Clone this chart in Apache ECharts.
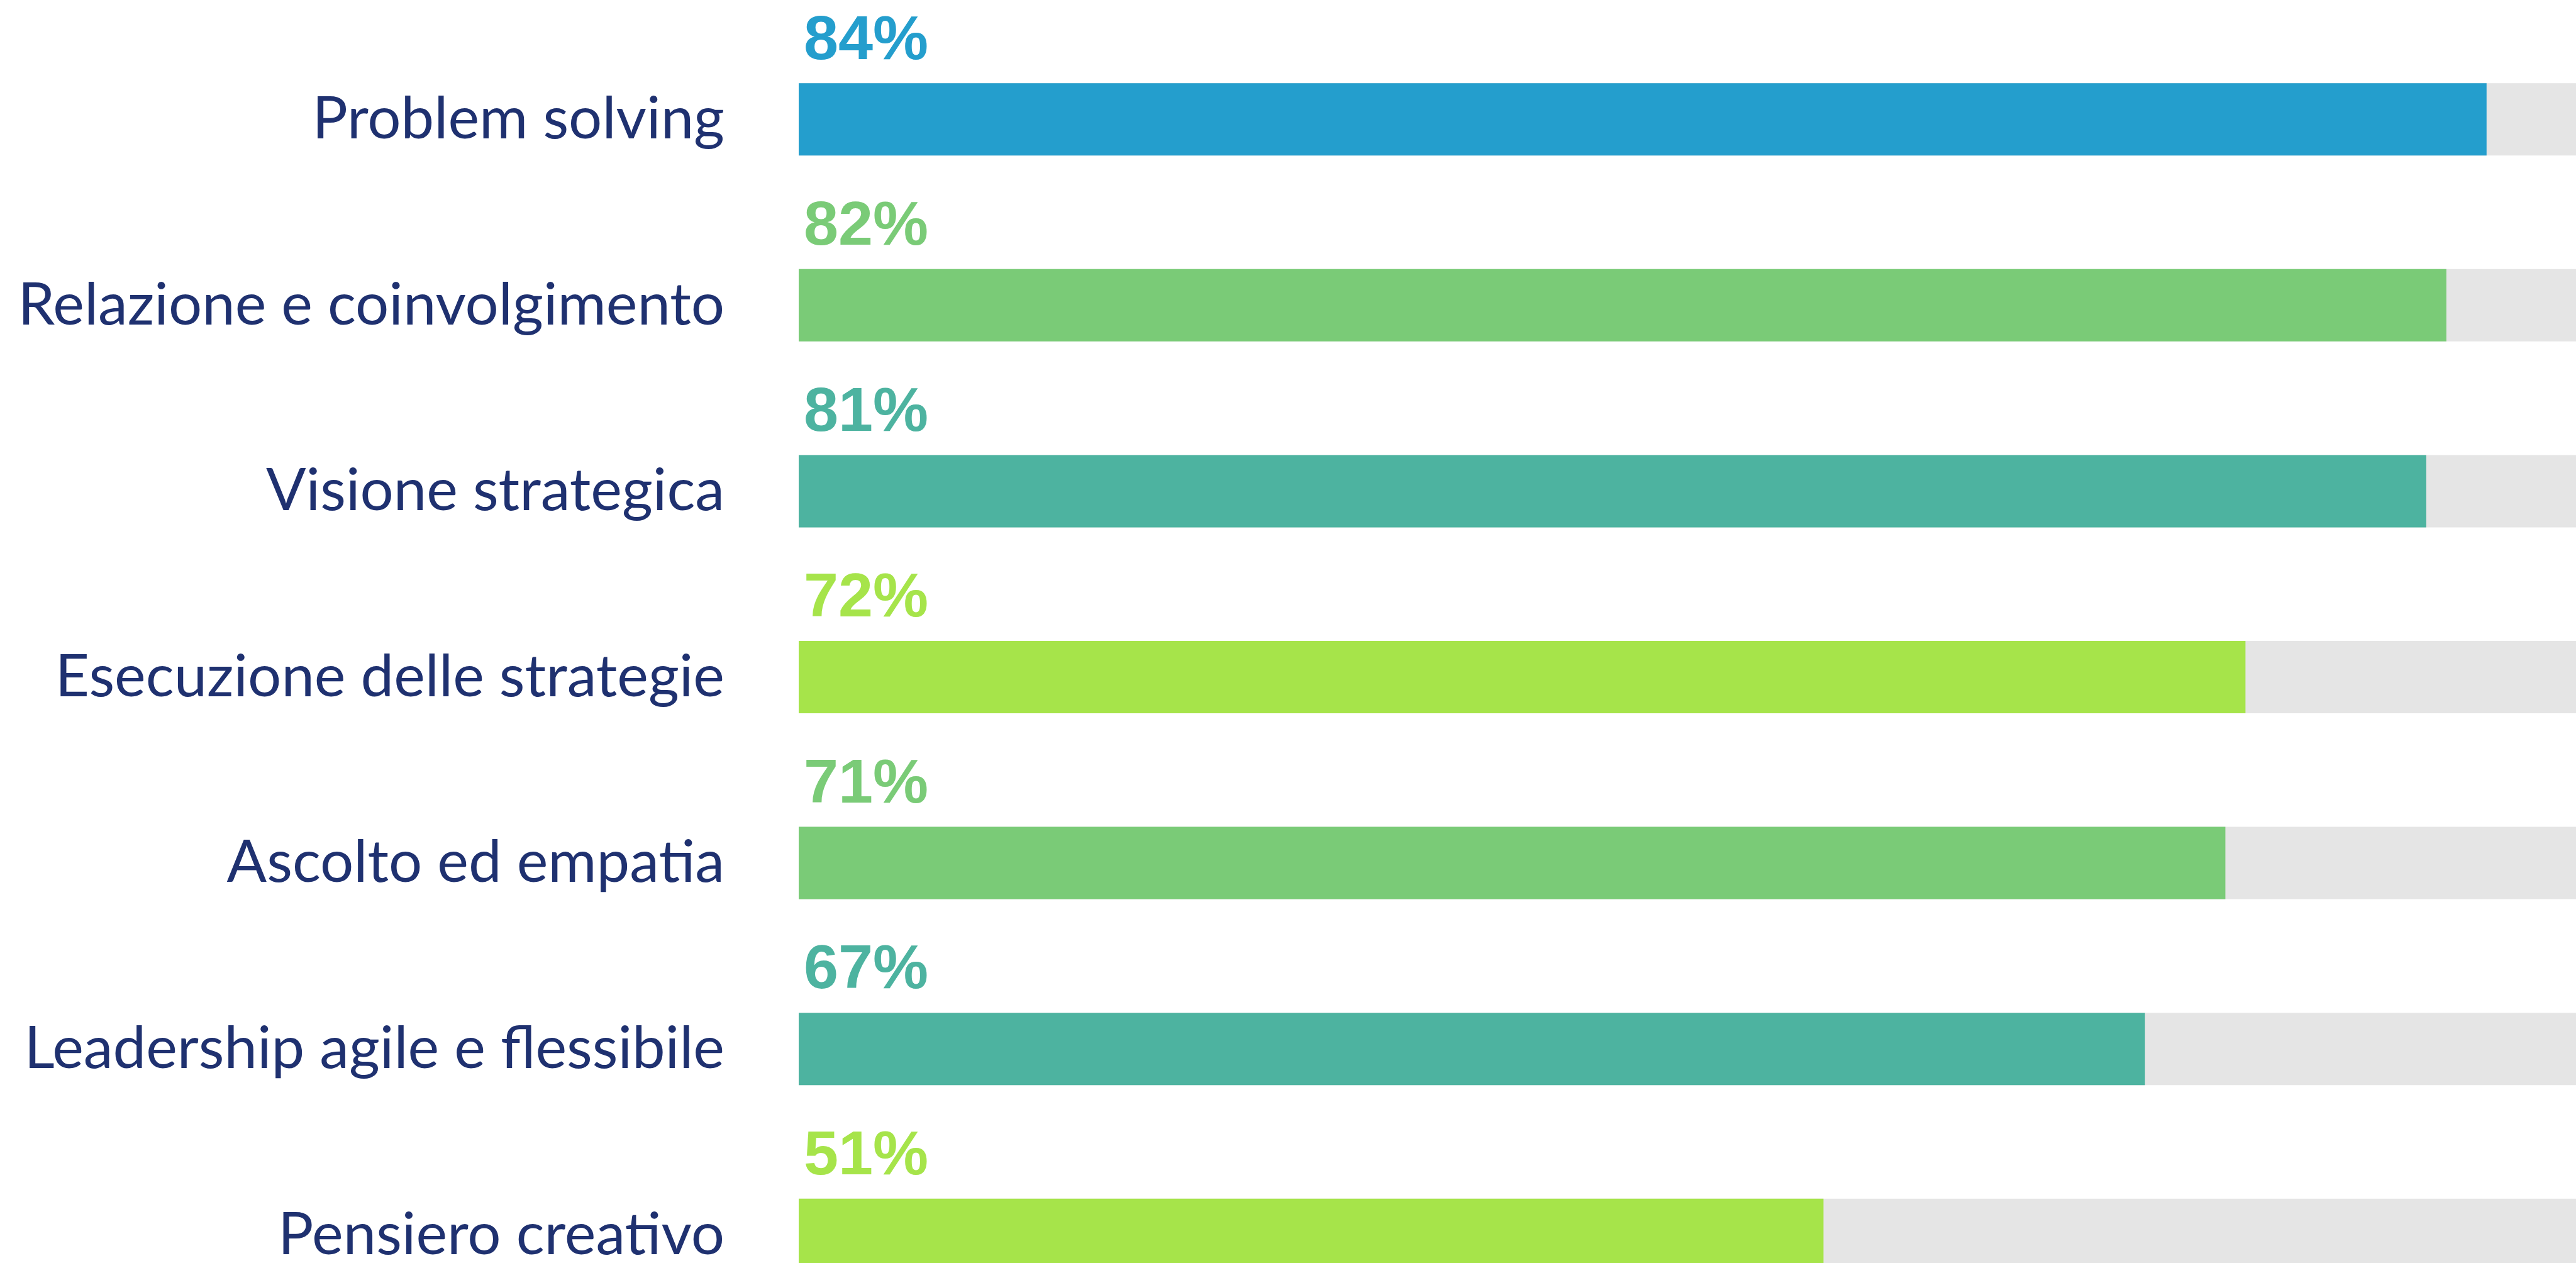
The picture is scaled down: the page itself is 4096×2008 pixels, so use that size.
<!DOCTYPE html>
<html lang="it">
<head>
  <meta charset="UTF-8">
  <title>Competenze</title>
  <style>
    html, body {
      margin: 0;
      width: 100%;
      height: 100%;
      overflow: hidden;
      background: #fff;
    }
    #chart {
      width: 4096px;
      height: 2008px;
    }
  </style>
</head>
<body>
  <div id="chart"></div>
  <script src="https://cdn.jsdelivr.net/npm/echarts/dist/echarts.min.js"></script>
  <script>
// dati
const categories = [
  'Problem solving',
  'Relazione e coinvolgimento',
  'Visione strategica',
  'Esecuzione delle strategie',
  'Ascolto ed empatia',
  'Leadership agile e flessibile',
  'Pensiero creativo'
];
const values = [84, 82, 81, 72, 71, 67, 51];
const barColors = ['#249ecd', '#7acb77', '#4db3a0', '#a6e44a', '#7acb77', '#4db3a0', '#a6e44a'];

let chart = echarts.init(document.getElementById('chart'));

// ogni barra ha il suo colore, anche l'etichetta
let seriesData = values.map((v, i) => ({
  value: v,
  itemStyle: { color: barColors[i] },
  label: { color: barColors[i] }
}));

chart.setOption({
  animation: false,
  grid: {
    left: 1270,
    top: 42,
    width: 3195,   // la scala arriva al 100% oltre il bordo destro
    height: 2069,  // l'ultima barra e' tagliata in basso
    containLabel: false,
    outerBoundsMode: 'none'
  },
  xAxis: {
    type: 'value',
    min: 0,
    max: 100,
    show: false
  },
  yAxis: {
    type: 'category',
    data: categories,
    inverse: true,
    axisLine: { show: false },
    axisTick: { show: false },
    splitLine: { show: false },
    axisLabel: {
      margin: 118,
      color: '#1f3170',
      fontFamily: 'Lato',
      fontSize: 94,
      padding: [0, 0, 22, 0]
    }
  },
  series: [
    {
      type: 'bar',
      data: seriesData,
      barWidth: 115,
      showBackground: true,
      backgroundStyle: { color: '#e5e5e5' },
      label: {
        show: true,
        position: [8, -66],
        align: 'left',
        verticalAlign: 'middle',
        formatter: '{c}%',
        fontFamily: 'Liberation Sans',
        fontWeight: 'bold',
        fontSize: 99
      }
    }
  ]
});
  </script>
</body>
</html>
